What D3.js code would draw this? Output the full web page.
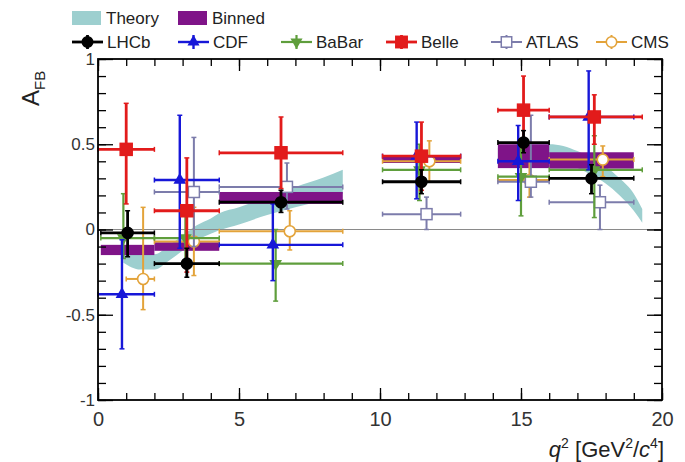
<!DOCTYPE html>
<html>
<head>
<meta charset="utf-8">
<script src="https://cdn.jsdelivr.net/npm/d3@7"></script>
<style>
  body { margin: 0; background: #fff; }
  text { font-family: "Liberation Sans", Arial, sans-serif; }
</style>
</head>
<body>
<svg id="chart" width="685" height="462"></svg>
<script>
// ---- data ----
// standard q2 bins
const binLo = [0.1, 2, 4.3, 10.09, 14.18, 16];
const binHi = [2, 4.3, 8.68, 12.86, 16, 19];

// SM theory band (continuous)
const theoryLowQ2  = [0.9, 1.5, 2.0, 2.5, 3.0, 3.5, 4.0, 4.3, 5, 6, 7, 8, 8.68];
const theoryLowA   = [-0.15, -0.19, -0.19, -0.14, -0.08, -0.02, 0.02, 0.045, 0.08, 0.14, 0.19, 0.24, 0.28];
const theoryLowErr = [0.045, 0.045, 0.045, 0.045, 0.045, 0.045, 0.045, 0.05, 0.05, 0.055, 0.06, 0.065, 0.07];
const theoryHighQ2  = [14.18, 15, 16, 16.5, 17, 17.5, 18, 18.5, 19, 19.3];
const theoryHighA   = [0.43, 0.45, 0.45, 0.44, 0.41, 0.37, 0.32, 0.25, 0.16, 0.08];
const theoryHighErr = [0.05, 0.05, 0.05, 0.05, 0.05, 0.05, 0.05, 0.05, 0.05, 0.04];

// SM binned predictions
const binnedA   = [-0.12, -0.10, 0.185, 0.41, 0.43, 0.405];
const binnedErr = [0.03, 0.025, 0.035, 0.02, 0.07, 0.048];

// experiments
const lhcbQ2 = [1.05, 3.15, 6.49, 11.47, 15.09, 17.5];
const lhcbA  = [-0.02, -0.20, 0.16, 0.28, 0.51, 0.30];
const lhcbUp = [0.13, 0.09, 0.07, 0.07, 0.07, 0.08];
const lhcbDn = [0.14, 0.08, 0.06, 0.07, 0.06, 0.09];

const cdfLo = [0, 2, 4.3, 10.09, 14.18, 16];
const cdfQ2 = [0.85, 2.9, 6.2, 11.3, 14.9, 17.4];
const cdfA  = [-0.38, 0.29, -0.09, 0.43, 0.40, 0.66];
const cdfUp = [0.32, 0.38, 0.24, 0.20, 0.21, 0.27];
const cdfDn = [0.32, 0.40, 0.21, 0.25, 0.23, 0.31];

const babarHi = [2, 4.3, 8.68, 12.86, 16, 19.3];
const babarQ2 = [0.9, 3.1, 6.3, 11.4, 15.0, 17.6];
const babarA  = [-0.05, -0.05, -0.20, 0.35, 0.31, 0.35];
const babarUp = [0.26, 0.15, 0.20, 0.15, 0.22, 0.20];
const babarDn = [0.12, 0.15, 0.22, 0.18, 0.23, 0.28];

const belleLo = [0, 2, 4.3, 10.09, 14.18, 16];
const belleHi = [2, 4.3, 8.68, 12.86, 16, 19.3];
const belleQ2 = [1.0, 3.15, 6.49, 11.47, 15.09, 17.6];
const belleA  = [0.47, 0.11, 0.45, 0.43, 0.70, 0.66];
const belleUp = [0.27, 0.31, 0.21, 0.20, 0.20, 0.13];
const belleDn = [0.32, 0.36, 0.21, 0.20, 0.22, 0.16];

const atlasLo = [2, 4.3, 10.09, 14.18, 16];
const atlasHi = [4.3, 8.68, 12.86, 16, 19];
const atlasQ2 = [3.4, 6.7, 11.65, 15.35, 17.8];
const atlasA  = [0.22, 0.25, 0.09, 0.28, 0.16];
const atlasUp = [0.32, 0.14, 0.10, 0.39, 0.10];
const atlasDn = [0.32, 0.13, 0.09, 0.09, 0.16];

const cmsLo = [1, 2, 4.3, 10.09, 14.18, 16];
const cmsQ2 = [1.6, 3.4, 6.8, 11.75, 15.3, 17.9];
const cmsA  = [-0.29, -0.07, -0.01, 0.40, 0.29, 0.41];
const cmsUp = [0.42, 0.20, 0.12, 0.12, 0.11, 0.08];
const cmsDn = [0.18, 0.20, 0.11, 0.12, 0.10, 0.10];

// build point tables for each experiment
function points(q2, a, up, dn, lo, hi) {
  return q2.map((q, i) => ({ q2: q, a: a[i], up: up[i], dn: dn[i], lo: lo[i], hi: hi[i] }));
}

const experiments = [
  { name: 'CMS',   color: '#e3a33a', marker: 'circle',   open: true,  width: 2,
    data: points(cmsQ2, cmsA, cmsUp, cmsDn, cmsLo, binHi) },
  { name: 'ATLAS', color: '#7c7cab', marker: 'square',   open: true,  width: 2,
    data: points(atlasQ2, atlasA, atlasUp, atlasDn, atlasLo, atlasHi) },
  { name: 'BaBar', color: '#5f9e3c', marker: 'triDown',  open: false, width: 2.2,
    data: points(babarQ2, babarA, babarUp, babarDn, binLo, babarHi) },
  { name: 'CDF',   color: '#1717d8', marker: 'triUp',    open: false, width: 2.4,
    data: points(cdfQ2, cdfA, cdfUp, cdfDn, cdfLo, binHi) },
  { name: 'Belle', color: '#e21b1b', marker: 'square',   open: false, width: 2.8,
    data: points(belleQ2, belleA, belleUp, belleDn, belleLo, belleHi) },
  { name: 'LHCb',  color: '#000000', marker: 'circle',   open: false, width: 2.8,
    data: points(lhcbQ2, lhcbA, lhcbUp, lhcbDn, binLo, binHi) }
];

const theoryColor = '#9dcfcf';
const binnedColor = '#7f1488';

// ---- layout ----
const margin = { top: 59, right: 23, bottom: 62, left: 98 };
const width = 685 - margin.left - margin.right;
const height = 462 - margin.top - margin.bottom;

const svg = d3.select('#chart');
const chart = svg.append('g')
    .attr('transform', `translate(${margin.left},${margin.top})`);

const x = d3.scaleLinear().domain([0, 20]).range([0, width]);
const y = d3.scaleLinear().domain([-1, 1]).range([height, 0]);

// theory band
const band = d3.area()
    .x(d => x(d.q2))
    .y0(d => y(d.a - d.e))
    .y1(d => y(d.a + d.e))
    .curve(d3.curveMonotoneX);

[[theoryLowQ2, theoryLowA, theoryLowErr], [theoryHighQ2, theoryHighA, theoryHighErr]].forEach(([q, a, e]) => {
  chart.append('path')
      .datum(q.map((v, i) => ({ q2: v, a: a[i], e: e[i] })))
      .attr('d', band)
      .attr('fill', theoryColor);
});

// binned predictions
chart.selectAll('.binned')
    .data(binnedA.map((a, i) => ({ lo: binLo[i], hi: binHi[i], a: a, e: binnedErr[i] })))
  .join('rect')
    .attr('class', 'binned')
    .attr('x', d => x(d.lo))
    .attr('width', d => x(d.hi) - x(d.lo))
    .attr('y', d => y(d.a + d.e))
    .attr('height', d => y(d.a - d.e) - y(d.a + d.e))
    .attr('fill', binnedColor);

// zero line
chart.append('line')
    .attr('x1', 0).attr('x2', width)
    .attr('y1', y(0)).attr('y2', y(0))
    .attr('stroke', '#8a8a8a').attr('stroke-width', 1.2);

// marker drawing
function drawMarker(g, exp, cx, cy, scale) {
  const s = scale || 1;
  const fill = exp.open ? '#fff' : exp.color;
  if (exp.marker === 'circle') {
    g.append('circle').attr('cx', cx).attr('cy', cy).attr('r', 5.5 * s)
        .attr('fill', fill).attr('stroke', exp.color).attr('stroke-width', 1.6);
  } else if (exp.marker === 'square') {
    const h = (exp.open ? 5.5 : 6) * s;
    g.append('rect').attr('x', cx - h).attr('y', cy - h).attr('width', 2 * h).attr('height', 2 * h)
        .attr('fill', fill).attr('stroke', exp.color).attr('stroke-width', 1.5);
  } else {
    const rot = exp.marker === 'triDown' ? 180 : 0;
    g.append('path')
        .attr('d', d3.symbol(d3.symbolTriangle, 70 * s * s)())
        .attr('transform', `translate(${cx},${cy}) rotate(${rot})`)
        .attr('fill', fill);
  }
}

// experimental points
experiments.forEach(exp => {
  const g = chart.append('g').attr('class', 'exp');
  exp.data.forEach(d => {
    const px = x(d.q2), py = y(d.a);
    g.append('line')
        .attr('x1', x(d.lo)).attr('x2', x(d.hi)).attr('y1', py).attr('y2', py)
        .attr('stroke', exp.color).attr('stroke-width', exp.width);
    g.append('line')
        .attr('x1', px).attr('x2', px).attr('y1', y(d.a + d.up)).attr('y2', y(d.a - d.dn))
        .attr('stroke', exp.color).attr('stroke-width', exp.width);
    // small end caps
    [y(d.a + d.up), y(d.a - d.dn)].forEach(cy => {
      g.append('line').attr('x1', px - 2.5).attr('x2', px + 2.5).attr('y1', cy).attr('y2', cy)
          .attr('stroke', exp.color).attr('stroke-width', 1.5);
    });
    [x(d.lo), x(d.hi)].forEach(cx => {
      g.append('line').attr('x1', cx).attr('x2', cx).attr('y1', py - 2.5).attr('y2', py + 2.5)
          .attr('stroke', exp.color).attr('stroke-width', 1.5);
    });
    drawMarker(g, exp, px, py);
  });
});

// ---- axes, ROOT style: inward ticks on all four sides ----
const fmt = d => String(d);
const xMajor = [0, 5, 10, 15, 20];
const xMinor = d3.range(0, 21);
const yMajor = [-1, -0.5, 0, 0.5, 1];
const yMinor = d3.range(-10, 11).map(d => d / 10);

function axisGroup(axis, tr) {
  const g = chart.append('g').attr('transform', tr || null).call(axis);
  g.select('.domain').remove();
  g.selectAll('line').attr('stroke', '#000').attr('stroke-width', 1.3);
  return g;
}

axisGroup(d3.axisBottom(x).tickValues(xMinor).tickSize(-7).tickFormat(''), `translate(0,${height})`);
axisGroup(d3.axisTop(x).tickValues(xMinor).tickSize(-7).tickFormat(''));
axisGroup(d3.axisLeft(y).tickValues(yMinor).tickSize(-8).tickFormat(''));
axisGroup(d3.axisRight(y).tickValues(yMinor).tickSize(-8).tickFormat(''), `translate(${width},0)`);
axisGroup(d3.axisTop(x).tickValues(xMajor).tickSize(-12).tickFormat(''));
axisGroup(d3.axisRight(y).tickValues(yMajor).tickSize(-15).tickFormat(''), `translate(${width},0)`);

const xAxisG = axisGroup(d3.axisBottom(x).tickValues(xMajor).tickSize(-12).tickPadding(12).tickFormat(fmt),
    `translate(0,${height})`);
xAxisG.selectAll('text').attr('font-size', 20).attr('fill', '#333')
    .attr('font-family', '"Liberation Sans", Arial, sans-serif');

const yAxisG = axisGroup(d3.axisLeft(y).tickValues(yMajor).tickSize(-15).tickPadding(3).tickFormat(fmt));
yAxisG.selectAll('text').attr('font-size', 17).attr('fill', '#333')
    .attr('font-family', '"Liberation Sans", Arial, sans-serif');

// frame
chart.append('rect')
    .attr('width', width).attr('height', height)
    .attr('fill', 'none').attr('stroke', '#000').attr('stroke-width', 1.8);

// axis titles
const xTitle = svg.append('text')
    .attr('x', margin.left + width + 2)
    .attr('y', 457)
    .attr('text-anchor', 'end')
    .attr('font-size', 22)
    .attr('fill', '#222');
xTitle.append('tspan').attr('font-style', 'italic').text('q');
xTitle.append('tspan').attr('font-size', 14).attr('dy', -9).text('2');
xTitle.append('tspan').attr('dy', 9).text(' [GeV');
xTitle.append('tspan').attr('font-size', 14).attr('dy', -9).text('2');
xTitle.append('tspan').attr('dy', 9).text('/');
xTitle.append('tspan').attr('font-style', 'italic').text('c');
xTitle.append('tspan').attr('font-size', 14).attr('dy', -9).text('4');
xTitle.append('tspan').attr('dy', 9).text(']');

const yTitle = svg.append('text')
    .attr('transform', 'translate(39,106) rotate(-90)')
    .attr('font-size', 24)
    .attr('fill', '#222');
yTitle.append('tspan').text('A');
yTitle.append('tspan').attr('font-size', 15).attr('dy', 6).text('FB');

// ---- legend ----
const legend = svg.append('g').attr('class', 'legend');
const legFont = 17;

[{ label: 'Theory', color: theoryColor, x: 72 }, { label: 'Binned', color: binnedColor, x: 178 }].forEach(d => {
  legend.append('rect').attr('x', d.x).attr('y', 11).attr('width', 29).attr('height', 14).attr('fill', d.color);
  legend.append('text').attr('x', d.x + 34).attr('y', 24).attr('font-size', legFont).attr('fill', '#222').text(d.label);
});

const legendX = { LHCb: 72, CDF: 178, BaBar: 281, Belle: 386, ATLAS: 491, CMS: 596 };
['LHCb', 'CDF', 'BaBar', 'Belle', 'ATLAS', 'CMS'].forEach(name => {
  const exp = experiments.find(e => e.name === name);
  const lx = legendX[name], ly = 42;
  legend.append('line').attr('x1', lx).attr('x2', lx + 31).attr('y1', ly).attr('y2', ly)
      .attr('stroke', exp.color).attr('stroke-width', exp.width);
  legend.append('line').attr('x1', lx + 15.5).attr('x2', lx + 15.5).attr('y1', ly - 7).attr('y2', ly + 7)
      .attr('stroke', exp.color).attr('stroke-width', exp.width);
  drawMarker(legend, exp, lx + 15.5, ly, 0.95);
  legend.append('text').attr('x', lx + 35).attr('y', ly + 6).attr('font-size', legFont).attr('fill', '#222').text(name);
});
</script>
</body>
</html>
